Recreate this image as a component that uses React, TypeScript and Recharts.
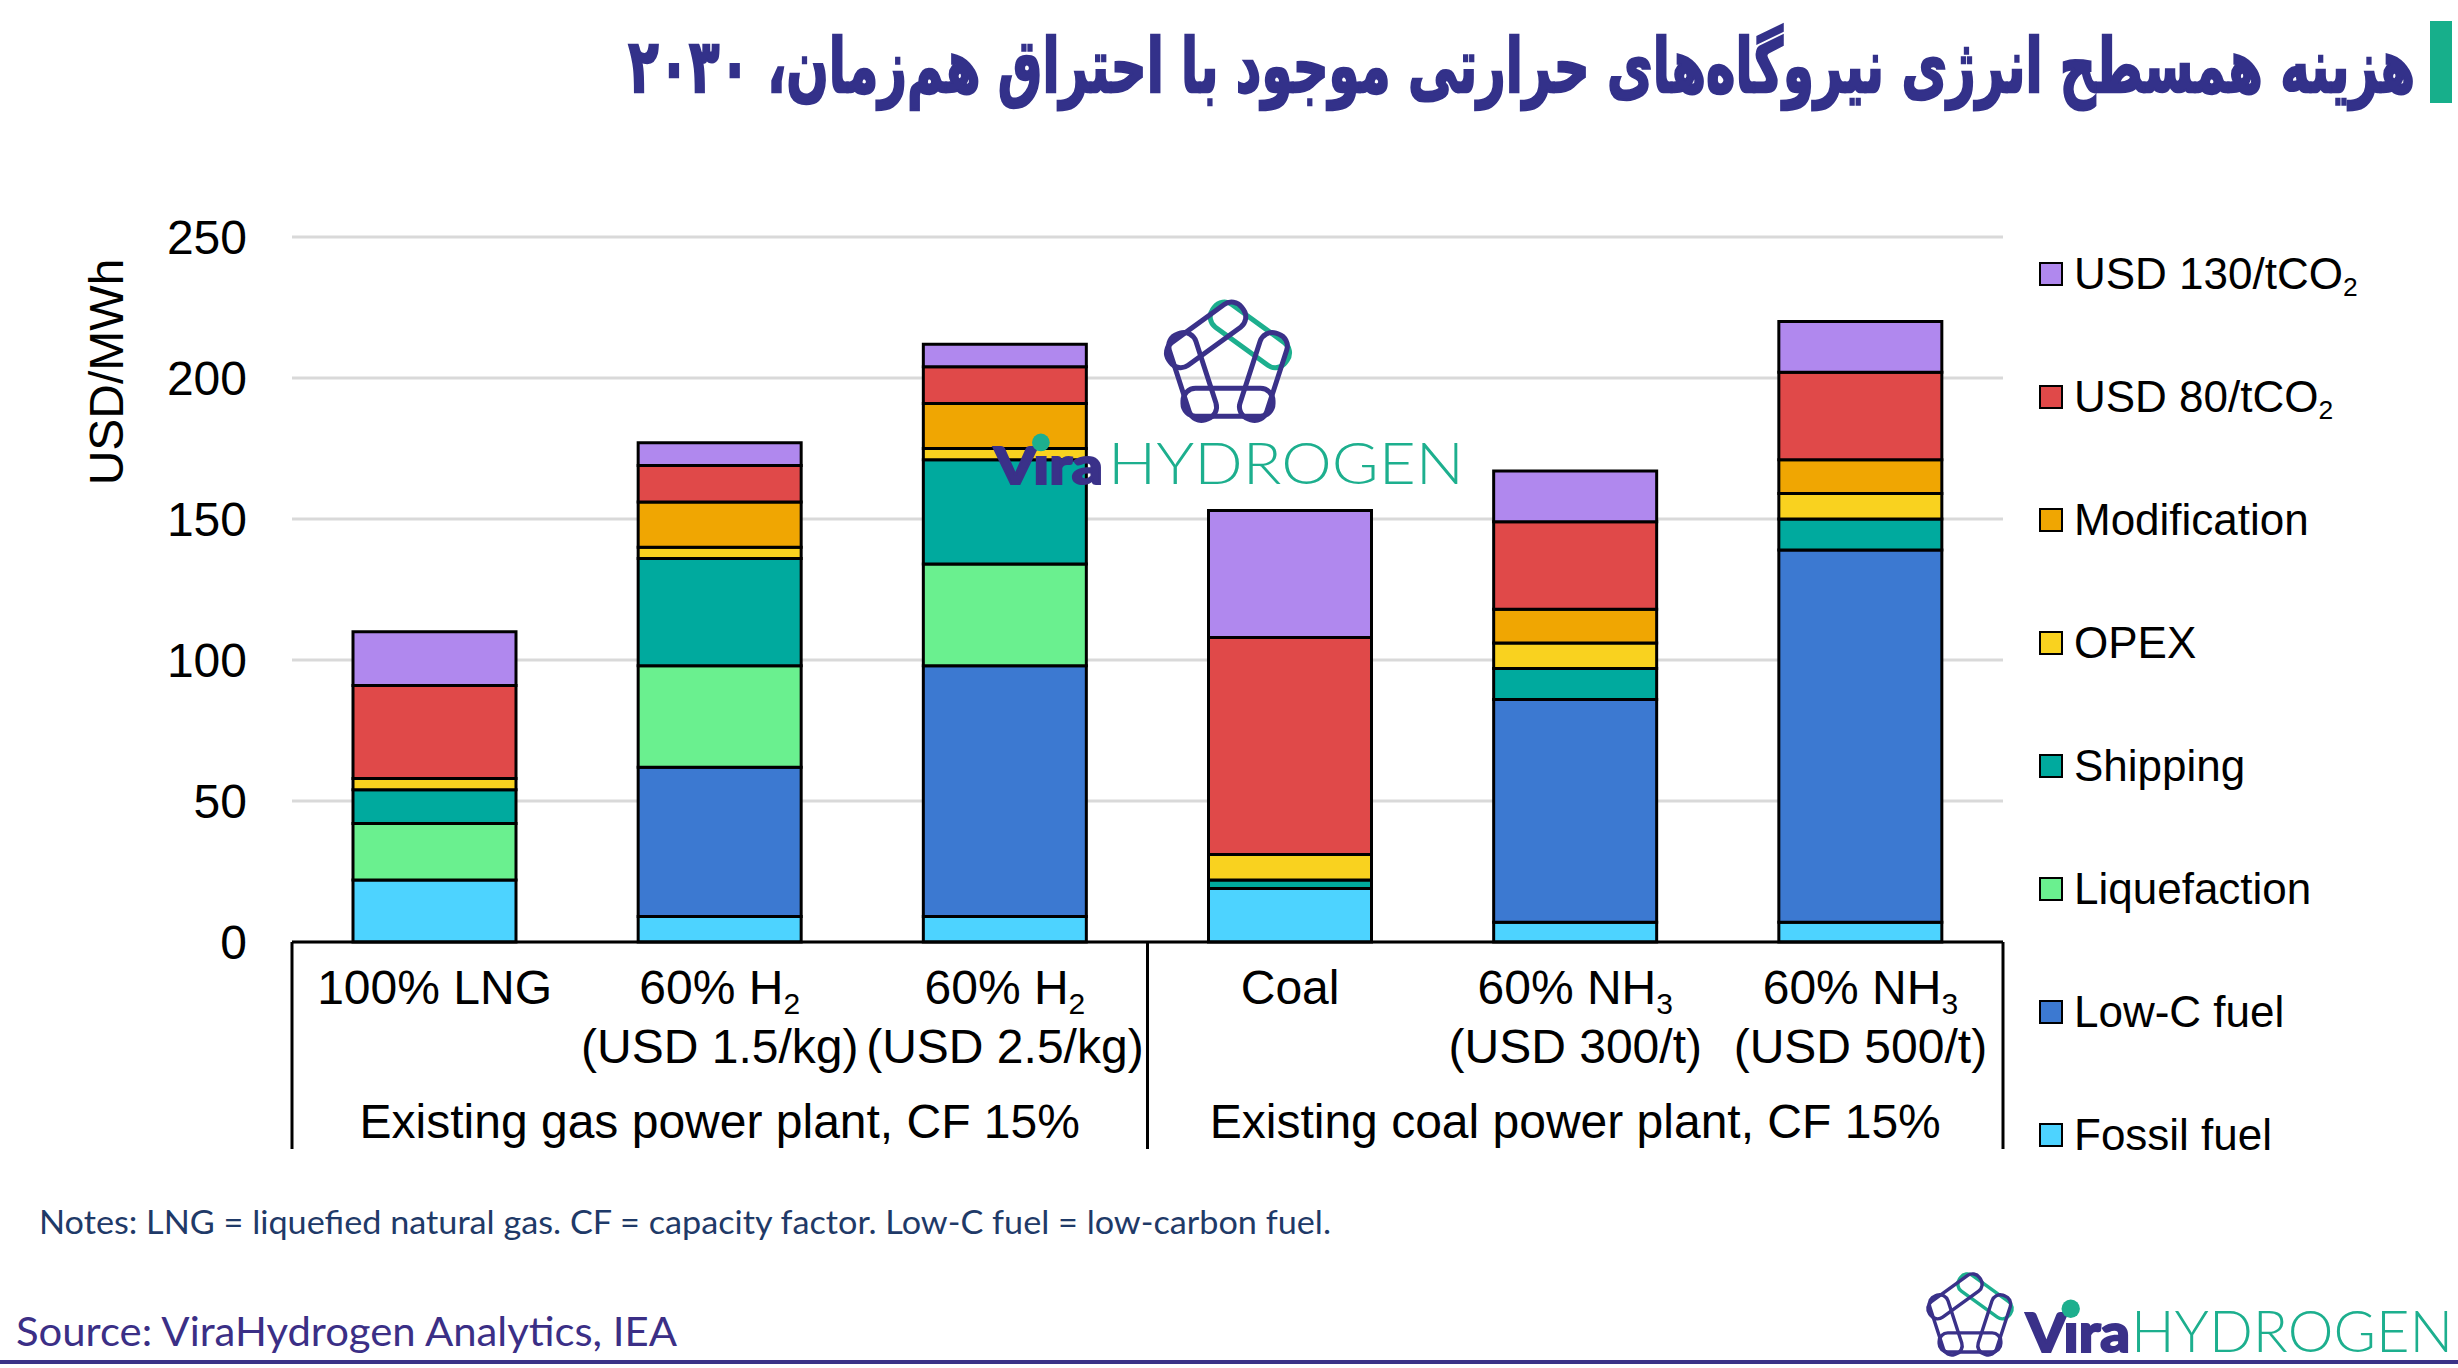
import React, { useLayoutEffect, useRef, useState } from 'react';
import { BarChart, Bar, XAxis, YAxis, CartesianGrid, Legend } from 'recharts';

// categories and tick labels
const categories = [
  '100% LNG',
  '60% H2 (USD 1.5/kg)',
  '60% H2 (USD 2.5/kg)',
  'Coal',
  '60% NH3 (USD 300/t)',
  '60% NH3 (USD 500/t)',
];
const tickTop = ['100% LNG', '60% H', '60% H', 'Coal', '60% NH', '60% NH'];
const tickSub = ['', '2', '2', '', '3', '3'];
const tickBottom = ['', '(USD 1.5/kg)', '(USD 2.5/kg)', '', '(USD 300/t)', '(USD 500/t)'];
const groupLabels = ['Existing gas power plant, CF 15%', 'Existing coal power plant, CF 15%'];
const yTicks = [0, 50, 100, 150, 200, 250];

// USD/MWh, stacked bottom to top
const fossilFuel = [22, 9, 9, 19, 7, 7];
const lowCFuel = [0, 53, 89, 0, 79, 132];
const liquefaction = [20, 36, 36, 0, 0, 0];
const shipping = [12, 38, 37, 3, 11, 11];
const opex = [4, 4, 4, 9, 9, 9];
const modification = [0, 16, 16, 0, 12, 12];
const co2At80 = [33, 13, 13, 77, 31, 31];
const co2At130 = [19, 8, 8, 45, 18, 18];

const seriesKeys = ['fossil', 'lowC', 'liq', 'ship', 'opex', 'mod', 'co2_80', 'co2_130'];
const seriesNames = ['Fossil fuel', 'Low-C fuel', 'Liquefaction', 'Shipping', 'OPEX', 'Modification', 'USD 80/tCO₂', 'USD 130/tCO₂'];
const seriesColors = ['#4DD3FF', '#3C79D1', '#6AF08F', '#00AA9E', '#F9D21F', '#F0A602', '#E04949', '#B088EE'];

const TITLE = 'هزینه همسطح انرژی نیروگاه‌های حرارتی موجود با احتراق هم‌زمان، ۲۰۳۰';

const data = categories.map((category, i) => ({
  category,
  fossil: fossilFuel[i],
  lowC: lowCFuel[i],
  liq: liquefaction[i],
  ship: shipping[i],
  opex: opex[i],
  mod: modification[i],
  co2_80: co2At80[i],
  co2_130: co2At130[i],
}));

const FONT = '"Liberation Sans", Arial, sans-serif';
const NAVY = '#3A3189';
const TEAL = '#1DAF8E';

const W = 2458;
const H = 1368;
const PLOT_LEFT = 292;
const PLOT_RIGHT = 2003;
const PLOT_TOP = 237;
const PLOT_BOTTOM = 942;
const Y_AXIS_W = 100;
const X_AXIS_H = 220;
const BAND = (PLOT_RIGHT - PLOT_LEFT) / categories.length;
const TITLE_W = 1787;

const withSub = (name: string) => {
  const parts = name.split('₂');
  if (parts.length === 1) return name;
  return (
    <>
      {parts[0]}
      <span style={{ fontSize: '0.6em', position: 'relative', top: '0.3em' }}>2</span>
    </>
  );
};

const renderCategoryTick = (props: any) => {
  const { x, y, index } = props;
  const axisY = y - 8;
  const half = BAND / 2;
  const txt = { fontFamily: FONT, fontSize: 48, fill: '#000', textAnchor: 'middle' as const };
  return (
    <g>
      <text x={x} y={axisY + 62} {...txt}>
        {tickTop[index]}
        {tickSub[index] && (
          <tspan fontSize={30} dy={10}>
            {tickSub[index]}
          </tspan>
        )}
      </text>
      {tickBottom[index] && (
        <text x={x} y={axisY + 121} {...txt}>
          {tickBottom[index]}
        </text>
      )}
      {index === 1 && (
        <text x={x} y={axisY + 196} {...txt}>
          {groupLabels[0]}
        </text>
      )}
      {index === 4 && (
        <text x={x} y={axisY + 196} {...txt}>
          {groupLabels[1]}
        </text>
      )}
      {index === 0 && (
        <line x1={x - half} x2={x - half} y1={axisY} y2={axisY + 207} stroke="#000" strokeWidth={3} />
      )}
      {(index === 2 || index === 5) && (
        <line x1={x + half} x2={x + half} y1={axisY} y2={axisY + 207} stroke="#000" strokeWidth={3} />
      )}
    </g>
  );
};

// legend lists the stack top-down
const renderLegend = () => {
  const order = seriesNames.map((_, i) => i).reverse();
  return (
    <div>
      {order.map((i) => (
        <div key={seriesNames[i]} style={{ height: 123, display: 'flex', alignItems: 'center' }}>
          <span
            style={{
              width: 24,
              height: 24,
              boxSizing: 'border-box',
              border: '2px solid #000',
              background: seriesColors[i],
              marginRight: 11,
              flex: 'none',
            }}
          />
          <span style={{ fontFamily: FONT, fontSize: 44, color: '#000', lineHeight: 1, whiteSpace: 'nowrap' }}>
            {withSub(seriesNames[i])}
          </span>
        </div>
      ))}
    </div>
  );
};

function ChainIcon({ cx, cy, scale }: { cx: number; cy: number; scale: number }) {
  const R = 46;
  const t = 28;
  const verts = [0, 1, 2, 3, 4].map((k) => {
    const a = ((-90 + 72 * k) * Math.PI) / 180;
    return [R * Math.cos(a), R * Math.sin(a)];
  });
  const edge = 2 * R * Math.sin(Math.PI / 5);
  const L = edge + 36;
  return (
    <g transform={`translate(${cx},${cy}) scale(${scale})`}>
      {verts.map((v, k) => {
        const w = verts[(k + 1) % 5];
        const mx = (v[0] + w[0]) / 2;
        const my = (v[1] + w[1]) / 2;
        const ang = (Math.atan2(w[1] - v[1], w[0] - v[0]) * 180) / Math.PI;
        return (
          <rect
            key={k}
            x={-L / 2}
            y={-t / 2}
            width={L}
            height={t}
            rx={t * 0.45}
            transform={`translate(${mx},${my}) rotate(${ang})`}
            fill="none"
            stroke={k === 0 ? TEAL : NAVY}
            strokeWidth={5}
          />
        );
      })}
    </g>
  );
}

function Wordmark({ x, base, viraW, viraSize, hydroX, hydroW }: any) {
  return (
    <g>
      <text
        x={x}
        y={base}
        fontFamily="Lato, 'Open Sans', sans-serif"
        fontWeight={900}
        fontSize={viraSize}
        fill={NAVY}
        stroke={NAVY}
        strokeWidth={2}
        textLength={viraW}
        lengthAdjust="spacingAndGlyphs"
      >
        Vıra
      </text>
      <circle cx={x + viraW * 0.43} cy={base - viraSize * 0.8} r={viraSize * 0.17} fill={TEAL} />
      <text
        x={hydroX}
        y={base}
        fontFamily="Lato, 'Open Sans', sans-serif"
        fontWeight={300}
        fontSize={58}
        fill={TEAL}
        textLength={hydroW}
        lengthAdjust="spacingAndGlyphs"
      >
        HYDROGEN
      </text>
    </g>
  );
}

function Title() {
  const ref = useRef<SVGTextElement>(null);
  const [sx, setSx] = useState(1);
  useLayoutEffect(() => {
    if (ref.current) {
      const len = ref.current.getComputedTextLength();
      if (len > 0) setSx(TITLE_W / len);
    }
  }, []);
  return (
    <g transform={`translate(2415, 92) scale(${sx}, 1.2)`}>
      <text
        ref={ref}
        x={0}
        y={0}
        textAnchor="end"
        fontFamily="'DejaVu Sans', sans-serif"
        fontWeight={700}
        fontSize={62}
        fill="#33318A"
        stroke="#33318A"
        strokeWidth={2}
      >
        {TITLE}
      </text>
    </g>
  );
}

export default function App() {
  return (
    <div style={{ position: 'absolute', left: 0, top: 0, width: W, height: H, background: '#fff' }}>
      <BarChart
        width={W}
        height={H}
        data={data}
        margin={{
          top: PLOT_TOP,
          right: W - PLOT_RIGHT,
          left: PLOT_LEFT - Y_AXIS_W,
          bottom: H - PLOT_BOTTOM - X_AXIS_H,
        }}
        barSize={163}
      >
        <CartesianGrid vertical={false} stroke="#d9d9d9" strokeWidth={3} />
        <XAxis
          dataKey="category"
          interval={0}
          height={X_AXIS_H}
          tickLine={false}
          axisLine={{ stroke: '#000', strokeWidth: 3 }}
          tick={renderCategoryTick}
        />
        <YAxis
          width={Y_AXIS_W}
          domain={[0, 250]}
          ticks={yTicks}
          axisLine={false}
          tickLine={false}
          tickMargin={39}
          tick={{ fill: '#000', fontSize: 48, fontFamily: FONT }}
          label={{
            content: () => (
              <text
                x={106}
                y={372}
                transform="rotate(-90, 106, 372)"
                textAnchor="middle"
                dominantBaseline="central"
                fontFamily={FONT}
                fontSize={48}
                fill="#000"
              >
                USD/MWh
              </text>
            ),
          }}
        />
        <Legend
          layout="vertical"
          align="center"
          verticalAlign="middle"
          content={renderLegend}
          wrapperStyle={{ left: 2039, top: 212, width: 419, height: 990 }}
        />
        {seriesKeys.map((key, i) => (
          <Bar
            key={key}
            dataKey={key}
            name={seriesNames[i]}
            stackId="cost"
            fill={seriesColors[i]}
            stroke="#000"
            strokeWidth={3}
            isAnimationActive={false}
          />
        ))}
      </BarChart>

      <svg
        width={W}
        height={H}
        style={{ position: 'absolute', left: 0, top: 0, pointerEvents: 'none' }}
      >
        <Title />
        <rect x={2430} y={21} width={22} height={82} fill="#17AF8B" />

        <ChainIcon cx={1228} cy={365} scale={1} />
        <Wordmark x={994} base={484} viraW={109} viraSize={52} hydroX={1108} hydroW={356} />

        <text
          x={39}
          y={1234}
          fontFamily="Lato, 'Open Sans', sans-serif"
          fontSize={32}
          fill="#1F3A68"
          textLength={1292}
          lengthAdjust="spacingAndGlyphs"
        >
          Notes: LNG = liquefied natural gas. CF = capacity factor. Low-C fuel = low-carbon fuel.
        </text>
        <text
          x={16}
          y={1346}
          fontFamily="Lato, 'Open Sans', sans-serif"
          fontSize={40}
          fill="#3B2F86"
          textLength={661}
          lengthAdjust="spacingAndGlyphs"
        >
          Source: ViraHydrogen Analytics, IEA
        </text>

        <ChainIcon cx={1970} cy={1317} scale={0.685} />
        <Wordmark x={2026} base={1352} viraW={104} viraSize={54} hydroX={2131} hydroW={322} />

        <rect x={0} y={1360} width={W} height={4} fill="#3B3287" />
      </svg>
    </div>
  );
}
